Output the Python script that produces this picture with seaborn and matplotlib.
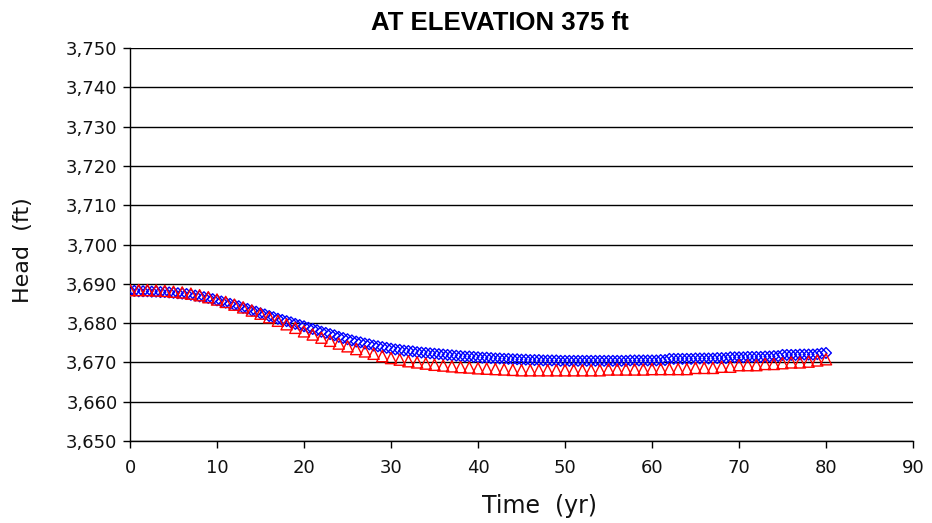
import numpy as np
import pandas as pd
import matplotlib
matplotlib.use("Agg")
import matplotlib.pyplot as plt
import seaborn as sns

# ---- data ----
blue_time = [i * 0.5 for i in range(161)]
blue_head = [
    3688.2, 3688.2, 3688.1, 3688.1, 3688.1, 3688.0, 3688.0, 3687.9, 3687.9, 3687.8,
    3687.7, 3687.6, 3687.5, 3687.4, 3687.2, 3687.0, 3686.8, 3686.6, 3686.4, 3686.1,
    3685.8, 3685.5, 3685.2, 3684.9, 3684.6, 3684.3, 3683.9, 3683.6, 3683.2, 3682.9,
    3682.5, 3682.2, 3681.8, 3681.5, 3681.1, 3680.8, 3680.5, 3680.2, 3679.8, 3679.5,
    3679.2, 3678.8, 3678.5, 3678.2, 3677.8, 3677.5, 3677.2, 3676.9, 3676.5, 3676.2,
    3675.9, 3675.6, 3675.3, 3675.1, 3674.8, 3674.6, 3674.3, 3674.1, 3673.9, 3673.7,
    3673.5, 3673.3, 3673.2, 3673.0, 3672.9, 3672.8, 3672.6, 3672.5, 3672.4, 3672.3,
    3672.2, 3672.1, 3672.0, 3671.9, 3671.8, 3671.7, 3671.6, 3671.5, 3671.5, 3671.4,
    3671.3, 3671.2, 3671.2, 3671.1, 3671.0, 3671.0, 3670.9, 3670.9, 3670.8, 3670.8,
    3670.7, 3670.7, 3670.6, 3670.6, 3670.6, 3670.5, 3670.5, 3670.5, 3670.5, 3670.4,
    3670.4, 3670.4, 3670.4, 3670.4, 3670.4, 3670.4, 3670.4, 3670.4, 3670.4, 3670.4,
    3670.4, 3670.4, 3670.4, 3670.4, 3670.4, 3670.5, 3670.5, 3670.5, 3670.5, 3670.5,
    3670.5, 3670.5, 3670.6, 3670.6, 3670.9, 3670.9, 3670.9, 3670.9, 3670.9, 3670.9,
    3671.0, 3671.0, 3671.0, 3671.0, 3671.0, 3671.1, 3671.1, 3671.1, 3671.3, 3671.3,
    3671.3, 3671.3, 3671.4, 3671.4, 3671.4, 3671.4, 3671.5, 3671.5, 3671.6, 3671.6,
    3671.9, 3671.9, 3671.9, 3671.9, 3672.0, 3672.0, 3672.0, 3672.0, 3672.1, 3672.3,
    3672.4,
]

red_time = list(range(81))
red_head = [
    3688.4, 3688.4, 3688.4, 3688.3, 3688.2, 3688.0, 3687.8, 3687.5, 3687.1, 3686.6,
    3686.0, 3685.4, 3684.7, 3684.0, 3683.2, 3682.4, 3681.5, 3680.6, 3679.7, 3678.8,
    3677.9, 3677.1, 3676.3, 3675.5, 3674.8, 3674.1, 3673.4, 3672.8, 3672.2, 3671.6,
    3671.1, 3670.7, 3670.3, 3670.0, 3669.7, 3669.4, 3669.2, 3669.0, 3668.8, 3668.7,
    3668.5, 3668.4, 3668.3, 3668.2, 3668.1, 3668.0, 3668.0, 3668.0, 3668.0, 3668.0,
    3668.0, 3668.0, 3668.0, 3668.0, 3668.0, 3668.2, 3668.2, 3668.2, 3668.2, 3668.2,
    3668.3, 3668.3, 3668.3, 3668.3, 3668.3, 3668.6, 3668.6, 3668.6, 3668.9, 3668.9,
    3669.3, 3669.3, 3669.3, 3669.6, 3669.6, 3669.8, 3670.0, 3670.0, 3670.2, 3670.5,
    3670.8,
]

x_ticks = [0, 10, 20, 30, 40, 50, 60, 70, 80, 90]
y_ticks = [3650, 3660, 3670, 3680, 3690, 3700, 3710, 3720, 3730, 3740, 3750]
title = "AT ELEVATION 375 ft"
x_label = "Time  (yr)"
y_label = "Head  (ft)"

# ---- plot ----
sns.set_style("white")
plt.rcParams['font.family'] = ['DejaVu Sans']

fig = plt.figure(figsize=(9.32, 5.23), dpi=100)
ax = fig.add_axes([130 / 932, 1 - 441 / 523, (913 - 130) / 932, (441 - 48) / 523])

df_b = pd.DataFrame({"t": blue_time, "h": blue_head})
df_r = pd.DataFrame({"t": red_time, "h": red_head})

sns.scatterplot(data=df_b, x="t", y="h", ax=ax, marker="D", s=30,
                facecolor="none", edgecolor="#0000ff", linewidth=1.0, zorder=3)
sns.scatterplot(data=df_r, x="t", y="h", ax=ax, marker="^", s=65,
                facecolor="none", edgecolor="#ff0000", linewidth=1.0, zorder=4)

ax.set_xlim(0, 90)
ax.set_ylim(3650, 3750)
ax.set_xticks(x_ticks)
ax.set_yticks(y_ticks)
ax.set_yticklabels([f"{v:,}" for v in y_ticks])
ax.set_xticklabels([str(v) for v in x_ticks])

ax.yaxis.grid(True, color="#000000", linewidth=1.0)
ax.xaxis.grid(False)
ax.set_axisbelow(True)
for side in ["top", "right"]:
    ax.spines[side].set_visible(False)
for side in ["left", "bottom"]:
    ax.spines[side].set_color("#000000")
    ax.spines[side].set_linewidth(1.0)

ax.tick_params(axis="both", direction="out", length=5, width=1, color="#000000",
               labelsize=13, labelcolor="#111111", pad=4, left=True, bottom=True)
ax.tick_params(axis="x", pad=8)

ax.set_xlabel("")
ax.set_ylabel("")
fig.text(539 / 932, 1 - 506 / 523, x_label, ha="center", va="center",
         fontsize=17, color="#111111")
fig.text(23 / 932, 1 - 250 / 523, y_label, ha="center", va="center",
         rotation=90, fontsize=16, color="#111111")
fig.text(500 / 932, 1 - 23 / 523, title, ha="center", va="center",
         fontsize=18.5, fontweight="bold", family="Liberation Sans", color="#000000")

fig.savefig("out.png", dpi=100, facecolor="white")
